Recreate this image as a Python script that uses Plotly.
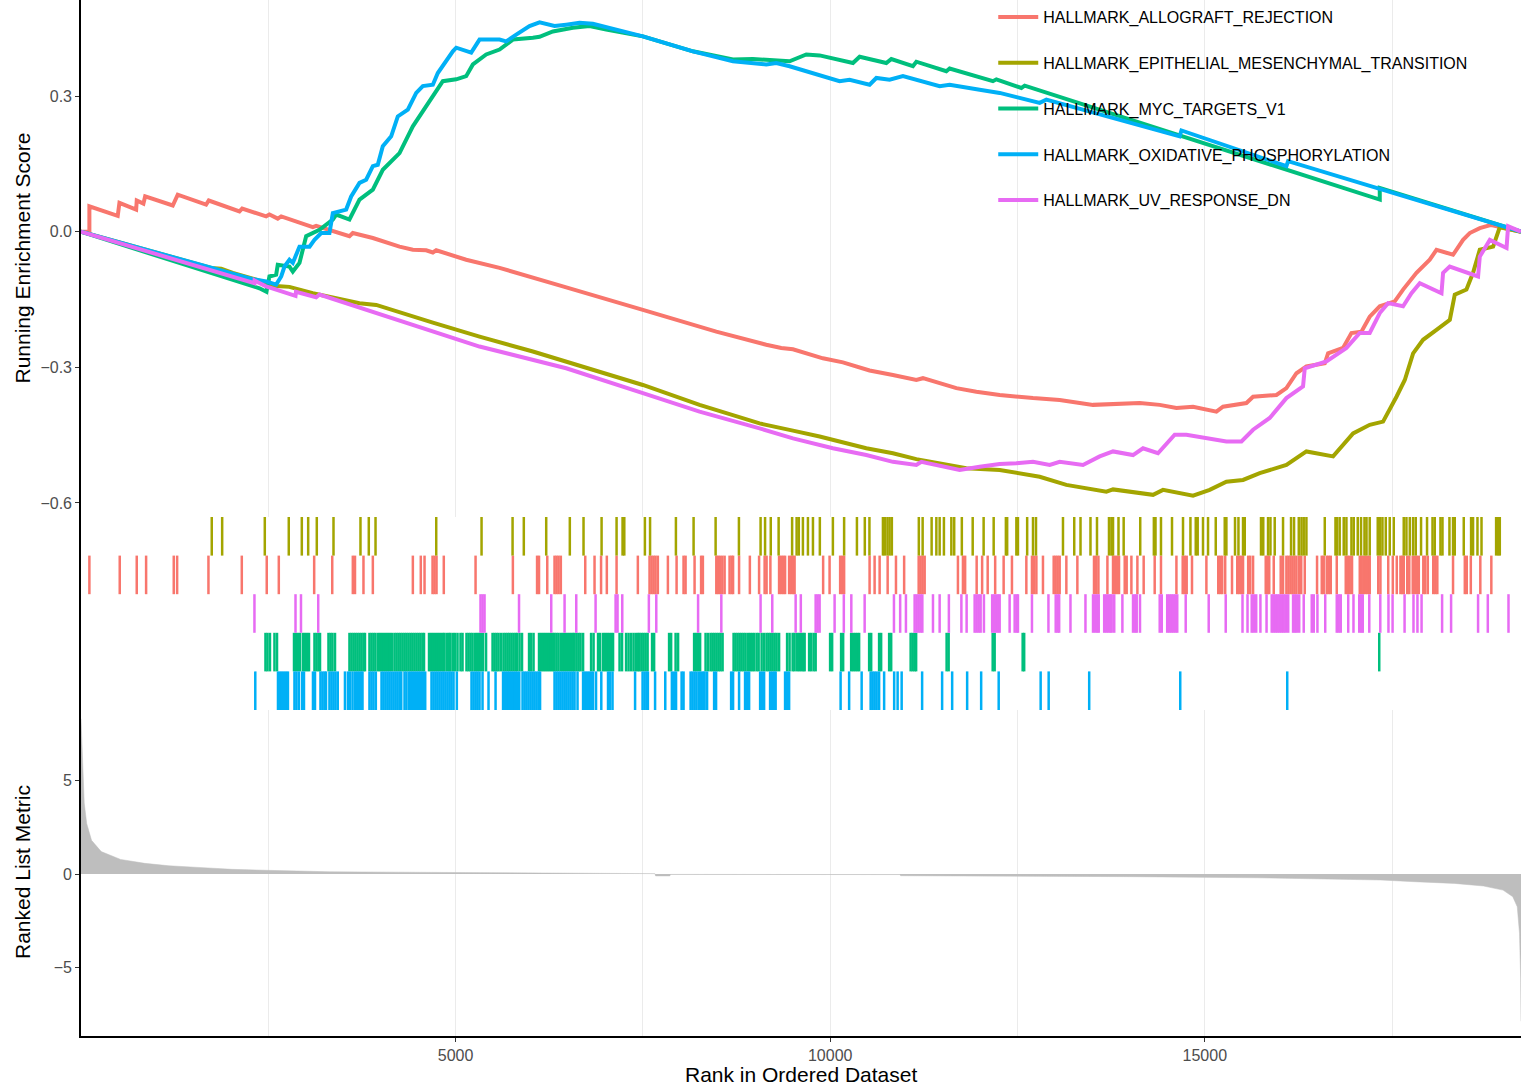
import plotly.graph_objects as go

# ---------------- data ----------------
N_GENES = 19220

SET_NAMES = [
    "HALLMARK_ALLOGRAFT_REJECTION",
    "HALLMARK_EPITHELIAL_MESENCHYMAL_TRANSITION",
    "HALLMARK_MYC_TARGETS_V1",
    "HALLMARK_OXIDATIVE_PHOSPHORYLATION",
    "HALLMARK_UV_RESPONSE_DN",
]

# running enrichment score (rank, score)
ES_RANK_ALLO = [0, 113, 113, 491, 514, 737, 745, 834, 857, 1226, 1292, 1671, 1706, 2116, 2152, 2472, 2516, 2627, 2673,
                3095, 3140, 3584, 3629, 3896, 4252, 4430, 4608, 4697, 4742, 5142, 5587, 6098, 6432, 7500, 8480, 9147,
                9347, 9503, 9903, 10170, 10526, 10837, 11150, 11238, 11684, 11951, 12262, 12707, 13063, 13508, 13820,
                14131, 14398, 14621, 14843, 15155, 15243, 15555, 15644, 15956, 16089, 16223, 16356, 16601, 16645,
                16845, 16957, 17090, 17201, 17335, 17535, 17646, 17825, 18002, 18092, 18313, 18447, 18536, 18670,
                18824, 19220]
ES_SCORE_ALLO = [0, 0, 0.056, 0.035, 0.064, 0.049, 0.069, 0.062, 0.078, 0.058, 0.082, 0.060, 0.069, 0.045, 0.051,
                 0.034, 0.038, 0.029, 0.034, 0.010, 0.013, -0.010, -0.003, -0.014, -0.033, -0.040, -0.041, -0.046,
                 -0.041, -0.062, -0.080, -0.106, -0.121, -0.173, -0.221, -0.250, -0.257, -0.260, -0.280, -0.289,
                 -0.307, -0.317, -0.328, -0.324, -0.346, -0.354, -0.361, -0.368, -0.372, -0.383, -0.381, -0.379,
                 -0.383, -0.390, -0.387, -0.398, -0.387, -0.379, -0.365, -0.361, -0.346, -0.313, -0.298, -0.291,
                 -0.269, -0.257, -0.224, -0.221, -0.188, -0.165, -0.154, -0.128, -0.091, -0.062, -0.040, -0.051,
                 -0.018, -0.003, 0.008, 0.015, 0]

ES_RANK_EMT = [0, 1738, 1872, 2027, 2339, 2606, 2783, 3095, 3718, 3941, 4697, 5320, 6032, 6477, 7500, 8257, 9058,
               9503, 9859, 10482, 10837, 11150, 11372, 11817, 12262, 12796, 13152, 13686, 13775, 14309, 14442,
               14843, 15065, 15288, 15510, 15733, 16089, 16356, 16712, 16979, 17201, 17379, 17558, 17669, 17780,
               17913, 18092, 18270, 18336, 18492, 18580, 18670, 18848, 18937, 19220]
ES_SCORE_EMT = [0, -0.080, -0.082, -0.091, -0.106, -0.120, -0.122, -0.136, -0.158, -0.162, -0.201, -0.232, -0.265,
                -0.287, -0.339, -0.383, -0.424, -0.440, -0.453, -0.479, -0.490, -0.503, -0.509, -0.523, -0.527,
                -0.542, -0.560, -0.575, -0.570, -0.582, -0.571, -0.584, -0.571, -0.553, -0.549, -0.534, -0.516,
                -0.486, -0.497, -0.446, -0.427, -0.420, -0.365, -0.328, -0.269, -0.239, -0.217, -0.195, -0.139,
                -0.128, -0.091, -0.040, -0.033, 0.010, 0]

ES_RANK_MYC = [0, 2383, 2476, 2516, 2606, 2627, 2783, 2828, 2917, 3006, 3184, 3362, 3407, 3584, 3718, 3896, 4029,
               4252, 4430, 4608, 4786, 4830, 5009, 5142, 5231, 5409, 5587, 5765, 6032, 6121, 6299, 6566, 6788, 7011,
               7500, 8168, 8702, 8968, 9458, 9681, 9859, 10304, 10393, 10749, 10816, 11104, 11150, 11550, 11594,
               12172, 12218, 12552, 12596, 17335, 17335, 19220]
ES_SCORE_MYC = [0, -0.125, -0.133, -0.099, -0.095, -0.073, -0.077, -0.088, -0.069, -0.010, 0.004, 0.027, 0.038,
                0.027, 0.071, 0.093, 0.137, 0.174, 0.233, 0.277, 0.322, 0.333, 0.337, 0.344, 0.370, 0.392, 0.403,
                0.425, 0.429, 0.431, 0.443, 0.451, 0.455, 0.447, 0.432, 0.399, 0.381, 0.382, 0.377, 0.392, 0.390,
                0.373, 0.387, 0.373, 0.382, 0.366, 0.376, 0.355, 0.361, 0.333, 0.337, 0.318, 0.323, 0.071, 0.097, 0]

ES_RANK_OXPHOS = [0, 2294, 2472, 2606, 2673, 2717, 2783, 2828, 2917, 3051, 3117, 3207, 3317, 3362, 3540, 3607, 3718,
                  3807, 3896, 3962, 4029, 4141, 4229, 4363, 4475, 4563, 4697, 4763, 4964, 5009, 5209, 5320, 5587,
                  5676, 5810, 5987, 6121, 6321, 6477, 6655, 6832, 7055, 7500, 8168, 8702, 9147, 9281, 9458, 10125,
                  10259, 10526, 10616, 10793, 10971, 11194, 11461, 11594, 11817, 11995, 12262, 12796, 12885, 14664,
                  14688, 16089, 16111, 19220]
ES_SCORE_OXPHOS = [0, -0.105, -0.110, -0.117, -0.099, -0.077, -0.062, -0.069, -0.033, -0.033, -0.018, -0.003,
                   -0.003, 0.041, 0.049, 0.078, 0.108, 0.115, 0.145, 0.148, 0.189, 0.211, 0.255, 0.270, 0.307, 0.322,
                   0.325, 0.351, 0.399, 0.407, 0.396, 0.425, 0.425, 0.421, 0.436, 0.455, 0.463, 0.455, 0.458, 0.462,
                   0.460, 0.451, 0.432, 0.399, 0.377, 0.370, 0.373, 0.366, 0.333, 0.336, 0.325, 0.340, 0.336, 0.344,
                   0.333, 0.322, 0.325, 0.318, 0.314, 0.307, 0.285, 0.292, 0.211, 0.224, 0.145, 0.156, 0]

ES_RANK_UV = [0, 2316, 2318, 2472, 2864, 2870, 3140, 3184, 5320, 5587, 6477, 7500, 8257, 9058, 9503, 10036, 10482,
              10837, 11150, 11217, 11728, 11995, 12262, 12485, 12707, 12930, 13063, 13374, 13597, 13775, 14042,
              14175, 14375, 14598, 14754, 15288, 15489, 15644, 15866, 16089, 16311, 16334, 16623, 16890, 17068,
              17201, 17335, 17446, 17646, 17758, 17869, 18159, 18180, 18269, 18647, 18670, 18804, 19027, 19048,
              19220]
ES_SCORE_UV = [0, -0.114, -0.108, -0.121, -0.142, -0.133, -0.145, -0.139, -0.254, -0.265, -0.302, -0.357, -0.398,
               -0.435, -0.457, -0.479, -0.494, -0.509, -0.516, -0.509, -0.527, -0.520, -0.514, -0.512, -0.509,
               -0.516, -0.509, -0.516, -0.497, -0.486, -0.494, -0.479, -0.490, -0.449, -0.449, -0.464, -0.464,
               -0.438, -0.412, -0.368, -0.342, -0.302, -0.287, -0.257, -0.224, -0.224, -0.180, -0.158, -0.165,
               -0.136, -0.114, -0.136, -0.091, -0.077, -0.099, -0.055, -0.018, -0.036, 0.012, 0]

# gene-set member positions in the ranked list
HITS_ALLO = [113, 518, 745, 870, 1239, 1284, 1702, 2147, 2480, 2641, 3113, 3354, 3629, 3658, 3771, 3896, 4430, 4536,
             4586, 4693, 4719, 4746, 4843, 5267, 5765, 6088, 6114, 6224, 6321, 6348, 6375, 6405, 6731, 6855, 6942,
             7019, 7149, 7433, 7589, 7616, 7643, 7669, 7700, 7834, 7950, 8043, 8070, 8190, 8277, 8301, 8480, 8504,
             8530, 8560, 8591, 8657, 8684, 8704, 8784, 8928, 9051, 9125, 9151, 9202, 9318, 9345, 9372, 9398, 9452,
             9479, 9505, 9525, 9906, 9992, 10133, 10159, 10186, 10526, 10593, 10660, 10767, 10878, 10987, 11181,
             11207, 11234, 11261, 11705, 11772, 11801, 11955, 12028, 12102, 12202, 12315, 12426, 12618, 12693,
             12722, 12752, 12840, 12983, 13009, 13036, 13063, 13152, 13299, 13521, 13550, 13580, 13700, 13775,
             13801, 13828, 13855, 13931, 13957, 14020, 14100, 14184, 14331, 14415, 14621, 14705, 14732, 14758,
             14829, 15021, 15179, 15205, 15232, 15272, 15363, 15433, 15459, 15486, 15510, 15579, 15606, 15644,
             15813, 15840, 15860, 15920, 16013, 16044, 16089, 16116, 16143, 16169, 16196, 16223, 16258, 16287,
             16334, 16498, 16561, 16587, 16627, 16654, 16681, 16761, 16881, 16908, 16934, 16965, 17068, 17094,
             17121, 17148, 17175, 17201, 17315, 17344, 17448, 17509, 17562, 17611, 17635, 17655, 17702, 17729,
             17775, 17802, 17829, 17856, 17916, 17942, 17976, 18049, 18076, 18103, 18313, 18470, 18496, 18550,
             18677, 18824]

HITS_EMT = [1746, 1885, 2454, 2774, 2948, 3033, 3148, 3371, 3731, 3842, 3932, 4742, 5347, 5761, 5911, 6210, 6525,
            6708, 6949, 7149, 7229, 7252, 7527, 7596, 7941, 8177, 8471, 8782, 9071, 9131, 9207, 9312, 9492, 9552,
            9581, 9636, 9703, 9770, 9862, 10036, 10186, 10357, 10462, 10524, 10704, 10729, 10764, 10793, 10823,
            11183, 11234, 11354, 11417, 11461, 11518, 11617, 11655, 11757, 11902, 12048, 12182, 12345, 12362,
            12485, 12506, 12629, 12707, 12747, 13107, 13257, 13341, 13474, 13561, 13721, 13753, 13775, 13848,
            13917, 14138, 14320, 14342, 14415, 14562, 14709, 14808, 14879, 14905, 14976, 15043, 15146, 15266,
            15288, 15403, 15449, 15510, 15533, 15750, 15780, 15844, 15876, 15933, 16044, 16151, 16191, 16254,
            16290, 16320, 16356, 16601, 16744, 16765, 16800, 16854, 16890, 16957, 16988, 17041, 17085, 17131,
            17158, 17201, 17308, 17340, 17371, 17415, 17468, 17522, 17655, 17691, 17736, 17780, 17815, 17886,
            17966, 18039, 18069, 18145, 18172, 18265, 18313, 18336, 18456, 18554, 18580, 18639, 18693, 18888,
            18915, 18937]

HITS_MYC = [2463, 2490, 2523, 2583, 2617, 2844, 2870, 2897, 2924, 2964, 2990, 3017, 3044, 3117, 3144, 3171, 3191,
            3304, 3331, 3357, 3391, 3584, 3611, 3638, 3664, 3691, 3718, 3744, 3771, 3791, 3851, 3878, 3905, 3931,
            3965, 3992, 4018, 4045, 4072, 4098, 4125, 4152, 4185, 4212, 4239, 4265, 4292, 4319, 4345, 4372, 4399,
            4425, 4452, 4479, 4506, 4532, 4559, 4579, 4646, 4673, 4699, 4726, 4753, 4779, 4806, 4833, 4853, 4886,
            4913, 4933, 4966, 4993, 5026, 5066, 5093, 5146, 5173, 5200, 5227, 5260, 5287, 5313, 5340, 5367, 5407,
            5494, 5520, 5547, 5574, 5607, 5640, 5667, 5694, 5720, 5747, 5774, 5801, 5821, 5854, 5887, 5981, 6008,
            6041, 6114, 6141, 6168, 6194, 6221, 6248, 6275, 6301, 6321, 6348, 6375, 6408, 6435, 6461, 6488, 6515,
            6542, 6568, 6588, 6615, 6642, 6668, 6702, 6809, 6842, 6902, 6929, 6969, 6995, 7022, 7049, 7076, 7102,
            7189, 7222, 7276, 7309, 7343, 7376, 7409, 7436, 7456, 7483, 7509, 7536, 7563, 7623, 7650, 7850, 7877,
            7937, 7970, 8184, 8210, 8237, 8264, 8337, 8370, 8404, 8431, 8457, 8484, 8511, 8537, 8564, 8711, 8737,
            8764, 8791, 8817, 8844, 8871, 8904, 8931, 8958, 8985, 9018, 9045, 9085, 9118, 9151, 9178, 9205, 9231,
            9258, 9285, 9318, 9425, 9458, 9499, 9525, 9559, 9585, 9612, 9639, 9659, 9719, 9746, 9779, 9806, 9999,
            10026, 10146, 10173, 10280, 10306, 10333, 10360, 10386, 10520, 10547, 10653, 10680, 10787, 10814,
            11074, 11101, 11127, 11147, 11554, 11581, 12169, 12195, 12569, 12589, 17328]

HITS_OXPHOS = [2327, 2630, 2657, 2683, 2710, 2737, 2763, 2850, 2877, 2910, 2953, 2977, 3097, 3124, 3197, 3224, 3251,
               3271, 3317, 3344, 3371, 3398, 3428, 3524, 3564, 3591, 3625, 3658, 3685, 3711, 3738, 3758, 3851, 3878,
               3905, 3936, 4012, 4038, 4065, 4092, 4118, 4145, 4172, 4199, 4225, 4252, 4275, 4319, 4345, 4379, 4406,
               4432, 4459, 4486, 4512, 4539, 4566, 4595, 4679, 4706, 4733, 4759, 4786, 4813, 4839, 4866, 4893, 4920,
               4946, 4973, 5017, 5213, 5240, 5267, 5293, 5320, 5360, 5440, 5534, 5634, 5660, 5687, 5714, 5741, 5767,
               5794, 5821, 5850, 5894, 5921, 5947, 5974, 6001, 6028, 6054, 6081, 6108, 6128, 6321, 6348, 6375, 6401,
               6428, 6455, 6481, 6508, 6535, 6562, 6588, 6628, 6702, 6728, 6755, 6782, 6809, 6835, 6875, 6945, 7035,
               7062, 7095, 7396, 7496, 7523, 7549, 7567, 7663, 7799, 7887, 7917, 7943, 8017, 8043, 8137, 8163, 8190,
               8217, 8250, 8277, 8304, 8324, 8357, 8451, 8477, 8678, 8704, 8784, 8864, 8891, 8918, 9065, 9091, 9118,
               9198, 9225, 9252, 9272, 9398, 9425, 9452, 10139, 10253, 10420, 10540, 10566, 10593, 10620, 10653,
               10720, 10854, 10900, 10954, 11227, 11494, 11628, 11828, 12015, 12249, 12809, 12916, 13457, 14672,
               16100]

HITS_UV = [2316, 2864, 2937, 3167, 5333, 5360, 5387, 5847, 6277, 6455, 6611, 6869, 7136, 7162, 7225, 7580, 7679,
           8237, 8547, 9071, 9227, 9539, 9608, 9806, 9833, 9859, 10059, 10182, 10282, 10460, 10851, 10934, 11011,
           11127, 11154, 11181, 11207, 11230, 11372, 11461, 11584, 11751, 11821, 11928, 11955, 11982, 12008, 12052,
           12162, 12188, 12215, 12242, 12262, 12395, 12462, 12489, 12506, 12693, 12913, 13010, 13036, 13056, 13207,
           13407, 13508, 13537, 13564, 13584, 13657, 13684, 13710, 13737, 13757, 13791, 13900, 14042, 14071, 14091,
           14135, 14398, 14425, 14498, 14525, 14552, 14578, 14605, 14632, 14745, 15052, 15279, 15503, 15570, 15626,
           15653, 15686, 15742, 15824, 15893, 15920, 15947, 15973, 16000, 16027, 16053, 16080, 16113, 16178, 16204,
           16227, 16260, 16320, 16427, 16454, 16503, 16607, 16761, 16787, 16814, 16914, 16984, 17061, 17088, 17108,
           17195, 17342, 17451, 17506, 17666, 17785, 17838, 17893, 18167, 18287, 18647, 18777, 19053]

# ranked list metric (rank, value)
METRIC_RANK = [1, 12, 25, 44, 77, 142, 271, 530, 853, 1177, 1630, 2019, 2471, 3312, 4200, 5060, 6000, 7000, 7660,
               7670, 7860, 7870, 9000, 10930, 10940, 13600, 14000, 15700, 16700, 17350, 17800, 18330, 18720, 18980,
               19110, 19170, 19200, 19215, 19220]
METRIC_VALUE = [8.3, 7.0, 5.7, 3.8, 2.7, 1.8, 1.2, 0.78, 0.57, 0.44, 0.34, 0.25, 0.20, 0.12, 0.10, 0.08, 0.05, 0.03,
                0.02, -0.10, -0.10, -0.02, -0.02, -0.03, -0.09, -0.12, -0.14, -0.20, -0.27, -0.32, -0.41, -0.50,
                -0.64, -0.86, -1.21, -1.75, -3.17, -5.5, -7.87]

ES_TICKS = [-0.6, -0.3, 0.0, 0.3]
ES_TICKTEXT = ["\u22120.6", "\u22120.3", "0.0", "0.3"]
METRIC_TICKS = [-5, 0, 5]
METRIC_TICKTEXT = ["\u22125", "0", "5"]
RANK_TICKS = [5000, 10000, 15000]
RANK_TICKTEXT = ["5000", "10000", "15000"]

# ---------------- styling ----------------
COLORS = ["#F8766D", "#A3A500", "#00BF7D", "#00B0F6", "#E76BF3"]
FONT = "Liberation Sans, Arial, Helvetica, sans-serif"
GRID = "#EBEBEB"

es_data = [
    (ES_RANK_ALLO, ES_SCORE_ALLO),
    (ES_RANK_EMT, ES_SCORE_EMT),
    (ES_RANK_MYC, ES_SCORE_MYC),
    (ES_RANK_OXPHOS, ES_SCORE_OXPHOS),
    (ES_RANK_UV, ES_SCORE_UV),
]
hits_data = [HITS_ALLO, HITS_EMT, HITS_MYC, HITS_OXPHOS, HITS_UV]
rug_row = [3, 4, 1, 0, 2]   # row index (0 = bottom) in the rug panel

fig = go.Figure()

# running enrichment score lines
for name, col, (xr, ys) in zip(SET_NAMES, COLORS, es_data):
    fig.add_trace(go.Scatter(
        x=xr, y=ys, mode="lines", name=name, legendgroup=name,
        line=dict(color=col, width=4), xaxis="x", yaxis="y",
        hoverinfo="skip"))

# rug of gene-set hits
for name, col, hits, row in zip(SET_NAMES, COLORS, hits_data, rug_row):
    xs, ys = [], []
    for h in hits:
        xs += [h, h, None]
        ys += [row, row + 1, None]
    fig.add_trace(go.Scatter(
        x=xs, y=ys, mode="lines", showlegend=False,
        line=dict(color=col, width=2.5), xaxis="x2", yaxis="y2",
        hoverinfo="skip"))

# ranked list metric
fig.add_trace(go.Scatter(
    x=METRIC_RANK, y=METRIC_VALUE, mode="lines", fill="tozeroy",
    fillcolor="#BEBEBE", line=dict(color="#BEBEBE", width=0.5),
    showlegend=False, xaxis="x3", yaxis="y3", hoverinfo="skip"))

H_PLOT = 1036.0
top_lo = 1 - 517 / H_PLOT
mid_lo = 1 - 710 / H_PLOT

xrange = [1, N_GENES]
tickfont = dict(family=FONT, size=16, color="#4D4D4D")
common_x = dict(range=xrange, zeroline=False)

fig.update_layout(
    width=1524, height=1086,
    margin=dict(l=81, r=3, t=0, b=50),
    paper_bgcolor="white", plot_bgcolor="white",
    font=dict(family=FONT, color="black"),
    showlegend=True,
    legend=dict(
        x=0.6335, y=1.0, xanchor="left", yanchor="top",
        bgcolor="rgba(0,0,0,0)", borderwidth=0,
        font=dict(family=FONT, size=16, color="black"),
        itemwidth=40, tracegroupgap=22, itemclick=False,
    ),
    xaxis=dict(**common_x, anchor="y", showticklabels=False, ticks="",
               showgrid=True, gridcolor=GRID, gridwidth=1.3, dtick=5000, tick0=0,
               minor=dict(dtick=2500, tick0=0, showgrid=True, gridcolor=GRID, gridwidth=1.3),
               showline=False),
    yaxis=dict(domain=[top_lo, 1], range=[-0.631, 0.5125], anchor="x",
               tickvals=ES_TICKS, ticktext=ES_TICKTEXT, tickfont=tickfont,
               ticks="outside", ticklen=4, tickcolor="#333333", tickwidth=1.2,
               showline=True, linecolor="black", linewidth=1.6,
               showgrid=False, zeroline=False),
    xaxis2=dict(**common_x, anchor="y2", showticklabels=False, ticks="",
                showgrid=False, showline=False),
    yaxis2=dict(domain=[mid_lo, top_lo], range=[0, 5], anchor="x2",
                showticklabels=False, ticks="", showgrid=False, zeroline=False,
                showline=True, linecolor="black", linewidth=1.6),
    xaxis3=dict(**common_x, anchor="y3", tickvals=RANK_TICKS, ticktext=RANK_TICKTEXT,
                tickfont=tickfont,
                ticks="outside", ticklen=4, tickcolor="#333333", tickwidth=1.2,
                showgrid=True, gridcolor=GRID, gridwidth=1.3,
                minor=dict(dtick=2500, tick0=0, showgrid=True, gridcolor=GRID, gridwidth=1.3),
                showline=True, linecolor="black", linewidth=1.6),
    yaxis3=dict(domain=[0, mid_lo], range=[-8.66, 8.77], anchor="x3",
                tickvals=METRIC_TICKS, ticktext=METRIC_TICKTEXT, tickfont=tickfont,
                ticks="outside", ticklen=4, tickcolor="#333333", tickwidth=1.2,
                showline=True, linecolor="black", linewidth=1.6,
                showgrid=False, zeroline=False),
)

title_font = dict(family=FONT, size=21, color="black")
fig.add_annotation(text="Running Enrichment Score", xref="paper", yref="paper",
                   x=(22 - 81) / 1440, y=(H_PLOT - 258.5) / H_PLOT, textangle=-90,
                   showarrow=False, xanchor="center", yanchor="middle", font=title_font)
fig.add_annotation(text="Ranked List Metric", xref="paper", yref="paper",
                   x=(22 - 81) / 1440, y=(H_PLOT - 872) / H_PLOT, textangle=-90,
                   showarrow=False, xanchor="center", yanchor="middle", font=title_font)
fig.add_annotation(text="Rank in Ordered Dataset", xref="paper", yref="paper",
                   x=0.5, y=(H_PLOT - 1074) / H_PLOT,
                   showarrow=False, xanchor="center", yanchor="middle", font=title_font)

fig.write_html("out.html", config={"displayModeBar": False},
               post_script="document.body.style.margin='0';document.body.style.overflow='hidden';")
